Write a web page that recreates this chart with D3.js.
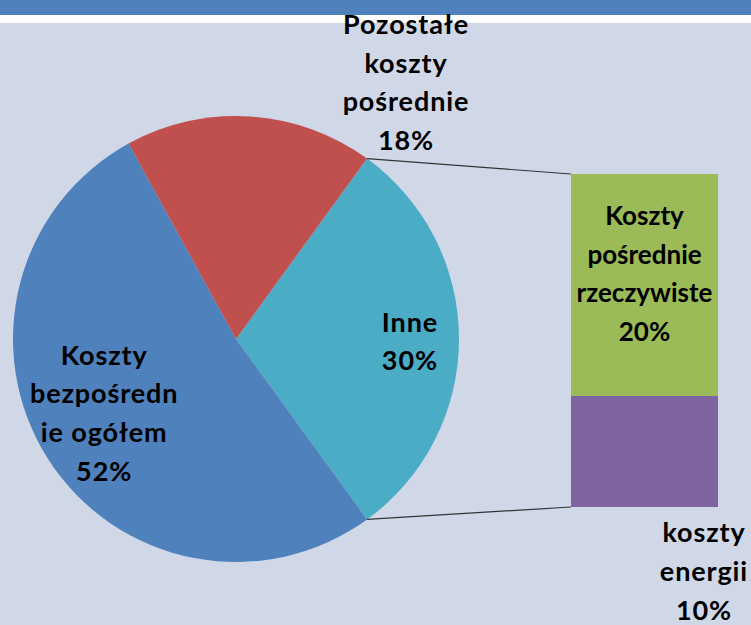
<!DOCTYPE html>
<html>
<head>
<meta charset="utf-8">
<script src="https://cdn.jsdelivr.net/npm/d3@7"></script>
<style>
  body { margin: 0; background: #d0d8e8; }
  svg { display: block; }
  text { font-family: Lato, "Open Sans", sans-serif; font-weight: bold; font-size: 27px; letter-spacing: 0.9px; fill: #000; }
</style>
</head>
<body>
<div id="chart"></div>
<script>
// pie slices (Inne is split into the bar on the right)
const pieLabels = [["Inne", "30%"], ["Koszty", "bezpośredn", "ie ogółem", "52%"], ["Pozostałe", "koszty", "pośrednie", "18%"]];
const pieValues = [30, 52, 18];
const pieColors = ["#4bacc6", "#4f81bd", "#c0504d"];

// secondary stacked bar
const barLabels = [["Koszty", "pośrednie", "rzeczywiste", "20%"], ["koszty", "energii", "10%"]];
const barValues = [20, 10];
const barColors = ["#9bbb59", "#8064a2"];

const width = 751, height = 625;
const svg = d3.select("#chart").append("svg")
  .attr("width", width).attr("height", height);

// title strip at the top
svg.append("rect").attr("x", 0).attr("y", 0).attr("width", width).attr("height", 15).attr("fill", "#4f81bd");
svg.append("rect").attr("x", 0).attr("y", 15).attr("width", width).attr("height", 8).attr("fill", "#ffffff");

const cx = 236, cy = 339, radius = 223;
const lineH = 38.7;

const g = svg.append("g").attr("transform", `translate(${cx},${cy})`);

const data = pieValues.map((v, i) => ({ value: v, label: pieLabels[i], color: pieColors[i] }));
// Inne is centered on the right side (90deg)
const startA = (90 - 30 / 100 * 360 / 2) * Math.PI / 180;
const pie = d3.pie().sort(null).value(d => d.value)
  .startAngle(startA).endAngle(startA + 2 * Math.PI);
const arcs = pie(data);
const arc = d3.arc().innerRadius(0).outerRadius(radius);

g.selectAll("path").data(arcs).join("path")
  .attr("d", arc)
  .attr("fill", d => d.data.color);

// bar of pie
const barX = 571, barW = 147;
const y = d3.scaleLinear().domain([0, d3.sum(barValues)]).range([507, 174]);
let acc = d3.sum(barValues);
const stacks = barValues.map((v, i) => {
  const top = acc; acc -= v;
  return { value: v, top: top, bottom: acc, label: barLabels[i], color: barColors[i] };
});
svg.selectAll("rect.bar").data(stacks).join("rect")
  .attr("class", "bar")
  .attr("x", barX).attr("width", barW)
  .attr("y", d => y(d.top))
  .attr("height", d => y(d.bottom) - y(d.top))
  .attr("fill", d => d.color);

// connector lines from Inne slice edges to the bar
const inne = arcs[0];
const pt = a => [cx + radius * Math.sin(a), cy - radius * Math.cos(a)];
const p1 = pt(inne.startAngle), p2 = pt(inne.endAngle);
svg.append("line").attr("x1", p1[0]).attr("y1", p1[1]).attr("x2", barX).attr("y2", y(d3.sum(barValues)))
  .attr("stroke", "#333").attr("stroke-width", 1.2);
svg.append("line").attr("x1", p2[0]).attr("y1", p2[1]).attr("x2", barX).attr("y2", y(0))
  .attr("stroke", "#333").attr("stroke-width", 1.2);

function multiline(sel, lines, x, yMid) {
  const t = sel.append("text").attr("text-anchor", "middle");
  const n = lines.length;
  lines.forEach((s, i) => {
    t.append("tspan").attr("x", x)
      .attr("y", yMid + (i - (n - 1) / 2) * lineH)
      .text(s);
  });
  return t;
}

// pie labels
const labelR = [0.78, 0.7, 1.0];
const labelDy = [12, 0, 0];
arcs.forEach((d, i) => {
  const a = (d.startAngle + d.endAngle) / 2;
  let lx = cx + radius * labelR[i] * Math.sin(a);
  let ly = cy - radius * labelR[i] * Math.cos(a) + labelDy[i];
  if (i === 2) { lx = 406; ly = 92; } // outside label for Pozostałe
  multiline(svg, d.data.label, lx, ly);
});

// bar labels
multiline(svg, stacks[0].label, barX + barW / 2, (y(stacks[0].top) + y(stacks[0].bottom)) / 2 - 2)
  .style("font-size", "26px").style("letter-spacing", "0px");
multiline(svg, stacks[1].label, 704, y(0) + 74);
</script>
</body>
</html>
